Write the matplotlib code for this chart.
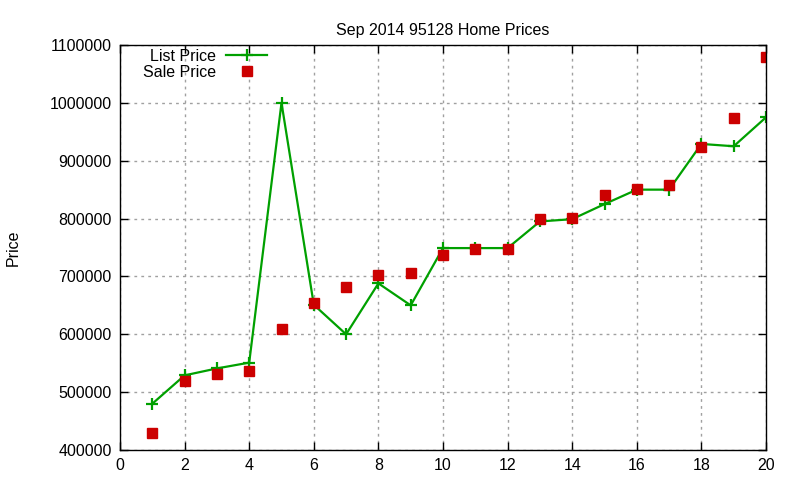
import numpy as np
import matplotlib.pyplot as plt
from matplotlib.ticker import FuncFormatter

# ----------------------------- DATA
homes = list(range(1, 21))
list_price = [480000, 529000, 541000, 551000, 1000000, 651000, 600000, 688000, 650000, 749000,
              749000, 749000, 795000, 799000, 825000, 850000, 850000, 929000, 925000, 975000]
sale_price = [430000, 520000, 531000, 536000, 610000, 654000, 681000, 702000, 706000, 737000,
              748000, 748000, 799000, 801000, 840000, 851000, 858000, 924000, 973000, 1079000]

title = 'Sep 2014 95128 Home Prices'

# ----------------------------- STYLE
plt.rcParams['font.family'] = ['Liberation Sans', 'DejaVu Sans']
plt.rcParams['font.size'] = 11.5

fig = plt.figure(figsize=(8, 4.8), dpi=100)
ax = fig.add_axes([0.15, 0.0625, 0.8075, 0.84375])

ax.plot(homes, list_price, color='#00a000', lw=1.6, marker='+', ms=8, mew=1.6,
        label='List Price')
ax.plot(homes, sale_price, color='#cc0000', lw=0, marker='s', ms=7.5,
        label='Sale Price')

ax.set_xlim(0, 20)
ax.set_ylim(400000, 1100000)
ax.set_xticks(np.arange(0, 21, 2))
ax.set_yticks(np.arange(400000, 1100001, 100000))
ax.yaxis.set_major_formatter(FuncFormatter(lambda v, p: f'{int(v)}'))
ax.tick_params(direction='in', top=True, right=True, length=6, width=1, pad=6)
ax.grid(True, color='#a0a0a0', linestyle=(0, (2, 3)), lw=1)
for s in ax.spines.values():
    s.set_linewidth(1)

ax.set_title(title, fontsize=11.5, pad=7)
ax.set_ylabel('Price', labelpad=21)

# legend: gnuplot style, text then sample, top-left inside
ax.legend(loc='upper right', bbox_to_anchor=(0.228, 0.99), frameon=False, markerfirst=False,
          handlelength=2.6, handletextpad=0.6, labelspacing=0.05, borderaxespad=0,
          borderpad=0)

fig.savefig('out.png', dpi=100)
